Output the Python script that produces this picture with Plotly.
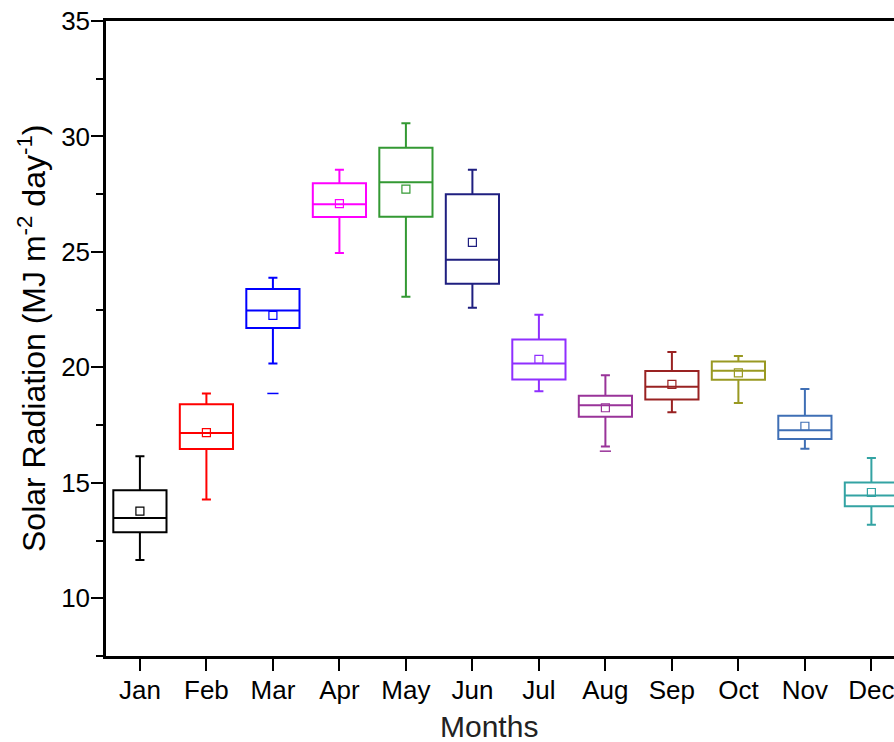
import plotly.graph_objects as go

months = ["Jan", "Feb", "Mar", "Apr", "May", "Jun", "Jul", "Aug", "Sep", "Oct", "Nov", "Dec"]
upper_whisker = [16.15, 18.87, 23.88, 28.56, 30.57, 28.56, 22.28, 19.66, 20.67, 20.49, 19.06, 16.07]
q3_values = [14.68, 18.40, 23.39, 27.97, 29.51, 27.50, 21.21, 18.77, 19.84, 20.25, 17.90, 15.01]
median_values = [13.48, 17.16, 22.46, 27.06, 28.02, 24.66, 20.17, 18.36, 19.16, 19.85, 17.28, 14.45]
q1_values = [12.86, 16.46, 21.71, 26.51, 26.52, 23.62, 19.47, 17.86, 18.61, 19.46, 16.90, 13.99]
lower_whisker = [11.66, 14.28, 20.17, 24.95, 23.06, 22.58, 18.97, 16.57, 18.06, 18.46, 16.47, 13.18]
mean_values = [13.77, 17.17, 22.25, 27.09, 27.72, 25.41, 20.35, 18.25, 19.26, 19.76, 17.45, 14.58]
outlier_months = ["Mar", "Aug"]
outlier_values = [18.87, 16.37]
colors = ["#000000", "#FF0000", "#0000FF", "#FF00FF", "#339933", "#1F1F80",
          "#8F2FFF", "#993399", "#992222", "#999922", "#3F6FB5", "#33A3A3"]

FONT = "Liberation Sans, Arial, sans-serif"

fig = go.Figure()

for i, m in enumerate(months):
    fig.add_trace(go.Box(
        x=[m],
        q1=[q1_values[i]], median=[median_values[i]], q3=[q3_values[i]],
        lowerfence=[lower_whisker[i]], upperfence=[upper_whisker[i]],
        boxpoints=False,
        width=0.8,
        whiskerwidth=0.17,
        line=dict(color=colors[i], width=2),
        fillcolor="rgba(0,0,0,0)",
        showlegend=False,
        hoverinfo="skip",
    ))

fig.add_trace(go.Scatter(
    x=months, y=mean_values, mode="markers",
    marker=dict(symbol="square-open", size=8, color=colors,
                line=dict(color=colors, width=1.2)),
    showlegend=False, hoverinfo="skip",
))

out_colors = [colors[months.index(m)] for m in outlier_months]
fig.add_trace(go.Scatter(
    x=outlier_months, y=outlier_values, mode="markers",
    marker=dict(symbol="line-ew", size=8, color=out_colors,
                line=dict(color=out_colors, width=1.5)),
    showlegend=False, hoverinfo="skip",
))

fig.update_layout(
    width=894, height=742,
    margin=dict(l=106, r=0, t=21, b=86),
    paper_bgcolor="white", plot_bgcolor="white",
    font=dict(family=FONT, color="black"),
    showlegend=False,
)

fig.update_xaxes(
    type="category",
    categoryorder="array", categoryarray=months,
    range=[-0.51, 11.34],
    showline=True, linecolor="black", linewidth=2.5, mirror=True,
    ticks="outside", ticklen=12, tickwidth=2, tickcolor="black",
    tickfont=dict(size=26, family=FONT, color="black"),
    ticklabelstandoff=-3,
    showgrid=False, zeroline=False,
)

fig.update_yaxes(
    range=[7.5, 35],
    tickvals=[10, 15, 20, 25, 30, 35],
    showline=True, linecolor="black", linewidth=2.5,
    ticks="outside", ticklen=12, tickwidth=2, tickcolor="black",
    tickfont=dict(size=26, family=FONT, color="black"),
    ticklabelstandoff=-4,
    minor=dict(dtick=2.5, tick0=7.5, ticks="outside", ticklen=7, tickwidth=2, tickcolor="black", showgrid=False),
    showgrid=False, zeroline=False,
)

fig.add_annotation(
    text="Solar Radiation (MJ m<sup>-2</sup> day<sup>-1</sup>)",
    xref="paper", yref="paper", x=-0.0939, y=(656 - 338) / 635,
    xanchor="center", yanchor="middle", textangle=-90,
    showarrow=False, font=dict(size=32, family=FONT, color="black"),
)

fig.add_annotation(
    text="Months",
    xref="paper", yref="paper", x=(489 - 106) / 788, y=(656 - 726) / 635,
    xanchor="center", yanchor="middle",
    showarrow=False, font=dict(size=30, family=FONT, color="#222222"),
)

fig.write_html("out.html")
